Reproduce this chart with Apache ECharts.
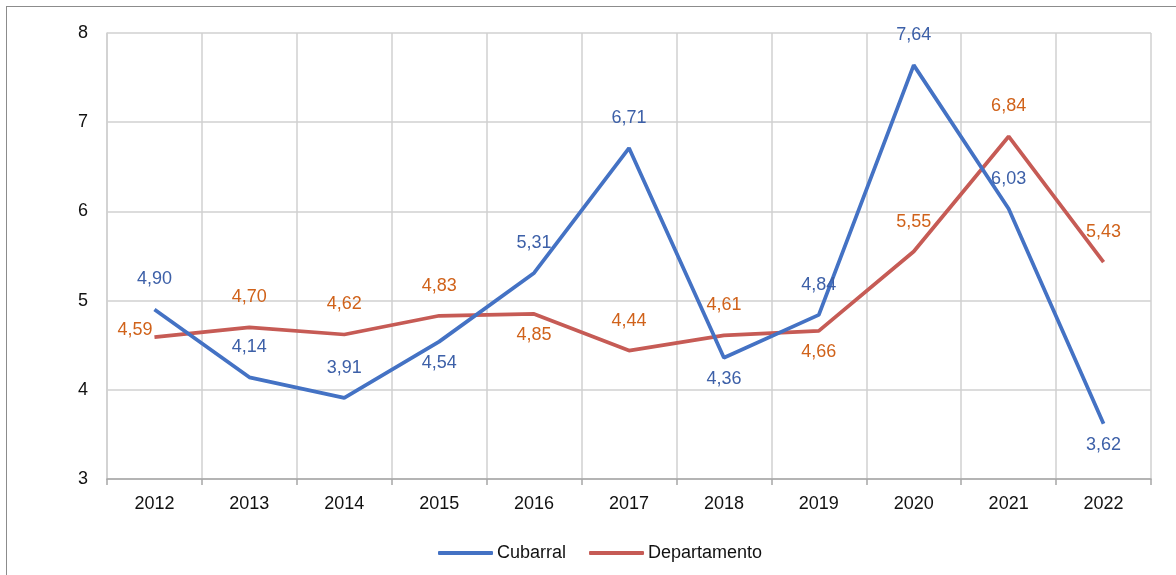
<!DOCTYPE html>
<html>
<head>
<meta charset="utf-8">
<script src="https://cdn.jsdelivr.net/npm/echarts@6/dist/echarts.min.js"></script>
<style>
  html, body { margin: 0; padding: 0; background: #ffffff; }
  #frame { position: absolute; left: 6px; top: 6px; width: 1300px; height: 700px; border: 1px solid #8c8c8c; box-sizing: border-box; }
  #chart { position: absolute; left: 0; top: 0; width: 1176px; height: 575px; }
</style>
</head>
<body>
<div id="frame"></div>
<div id="chart"></div>
<script>
// Years on the horizontal axis
const years = ['2012', '2013', '2014', '2015', '2016', '2017', '2018', '2019', '2020', '2021', '2022'];

// Yearly values for the municipality and the department
const cubarral = [4.90, 4.14, 3.91, 4.54, 5.31, 6.71, 4.36, 4.84, 7.64, 6.03, 3.62];
const departamento = [4.59, 4.70, 4.62, 4.83, 4.85, 4.44, 4.61, 4.66, 5.55, 6.84, 5.43];

// Which side of each point its value label sits on
const cubarralLabelSide = ['top', 'top', 'top', 'bottom', 'top', 'top', 'bottom', 'top', 'top', 'top', 'bottom'];
const departamentoLabelSide = ['left', 'top', 'top', 'top', 'bottom', 'top', 'top', 'bottom', 'top', 'top', 'top'];

const FONT = "'Liberation Sans Narrow', 'Arial Narrow', 'Liberation Sans', Arial, sans-serif";
const FS = 18;
const fmt = v => v.toFixed(2).replace('.', ',');

function withLabels(values, sides) {
  return values.map((v, i) => {
    const side = sides[i];
    const label = { position: side, distance: side === 'bottom' ? 12 : 21 };
    if (side === 'left') { label.distance = 2; label.offset = [0, -7]; }
    return { value: v, label };
  });
}

const chart = echarts.init(document.getElementById('chart'), null, { renderer: 'canvas' });

chart.setOption({
  animation: false,
  backgroundColor: 'transparent',
  textStyle: { fontFamily: FONT },
  grid: { left: 107, top: 33, right: 25, bottom: 96 },
  legend: {
    left: 433,
    top: 539,
    itemWidth: 55,
    itemHeight: 4,
    itemGap: 23,
    icon: 'roundRect',
    textStyle: { fontFamily: FONT, fontSize: FS, color: '#111111', padding: [0, 0, 0, -1] },
    data: ['Cubarral', 'Departamento']
  },
  xAxis: {
    type: 'category',
    data: years,
    boundaryGap: true,
    axisLine: { show: true, lineStyle: { color: '#a6a6a6', width: 1.5 } },
    axisTick: { show: true, length: 6, lineStyle: { color: '#a6a6a6', width: 1.5 } },
    axisLabel: { margin: 16, fontFamily: FONT, fontSize: FS, color: '#111111' },
    splitLine: { show: true, lineStyle: { color: '#d0d0d0', width: 1.5 } }
  },
  yAxis: {
    type: 'value',
    min: 3,
    max: 8,
    interval: 1,
    axisLine: { show: true, lineStyle: { color: '#d0d0d0', width: 1.5 } },
    axisTick: { show: false },
    axisLabel: { margin: 19, fontFamily: FONT, fontSize: FS, color: '#111111' },
    splitLine: { show: true, lineStyle: { color: '#d0d0d0', width: 1.5 } }
  },
  series: [
    {
      name: 'Cubarral',
      type: 'line',
      data: withLabels(cubarral, cubarralLabelSide),
      symbol: 'circle',
      symbolSize: 0.01,
      showSymbol: true,
      itemStyle: { color: '#4472c4' },
      lineStyle: { color: '#4472c4', width: 3.75 },
      label: { show: true, fontFamily: FONT, fontSize: FS, color: '#3d60a8', formatter: p => fmt(p.value) },
      z: 3
    },
    {
      name: 'Departamento',
      type: 'line',
      data: withLabels(departamento, departamentoLabelSide),
      symbol: 'circle',
      symbolSize: 0.01,
      showSymbol: true,
      itemStyle: { color: '#c65b55' },
      lineStyle: { color: '#c65b55', width: 3.75 },
      label: { show: true, fontFamily: FONT, fontSize: FS, color: '#d0621a', formatter: p => fmt(p.value) },
      z: 2
    }
  ]
});
</script>
</body>
</html>
